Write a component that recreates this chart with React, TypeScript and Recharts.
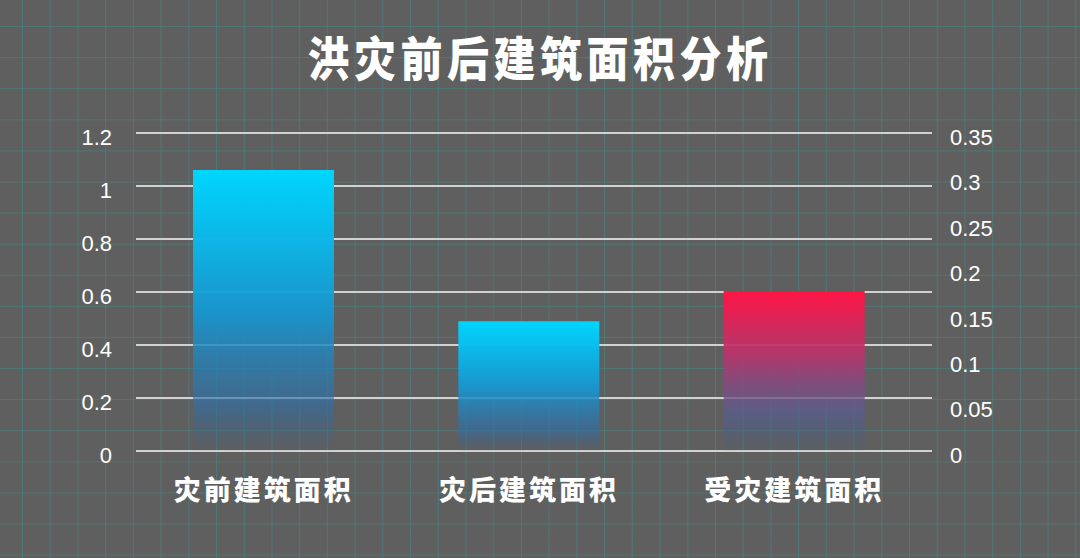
import React from 'react'
import { BarChart, Bar, XAxis, YAxis, CartesianGrid } from 'recharts'

// 面积数据（左轴：灾前/灾后，右轴：受灾）
const categories = ['灾前建筑面积', '灾后建筑面积', '受灾建筑面积']
const areaValues = [1.06, 0.49, null]
const damagedValues = [null, null, 0.176]
const leftTicks = [0, 0.2, 0.4, 0.6, 0.8, 1, 1.2]
const rightTicks = [0, 0.05, 0.1, 0.15, 0.2, 0.25, 0.3, 0.35]

const chartData = categories.map((name, i) => ({
  name,
  area: areaValues[i],
  damaged: damagedValues[i],
}))

const W = 1080
const H = 558
const BG = '#605f5f'
const GRID_TEAL = 'rgba(72, 128, 124, 0.75)'
const CJK = '"Noto Sans CJK SC", "Noto Sans", sans-serif'
const NUM = '"Liberation Sans", Arial, sans-serif'

export default function App() {
  return (
    <div
      style={{
        position: 'fixed',
        left: 0,
        top: 0,
        width: W,
        height: H,
        overflow: 'hidden',
        backgroundColor: BG,
        backgroundImage: `linear-gradient(to right, ${GRID_TEAL} 1px, transparent 1px), linear-gradient(to bottom, ${GRID_TEAL} 1px, transparent 1px)`,
        backgroundSize: '27.72px 31.1px',
        backgroundPosition: '22px 26px',
      }}
    >
      <div
        style={{
          position: 'absolute',
          top: 31,
          left: 0,
          width: W,
          textAlign: 'center',
          color: '#ffffff',
          fontFamily: CJK,
          fontWeight: 900,
          fontSize: 42,
          lineHeight: '50px',
          letterSpacing: 4.5,
          boxSizing: 'border-box',
          transform: 'scaleY(1.12)',
        }}
      >
        洪灾前后建筑面积分析
      </div>
      <BarChart
        width={W}
        height={H}
        data={chartData}
        margin={{ top: 133, right: 0, bottom: 77, left: 0 }}
        barSize={141}
        barGap={-141}
        style={{ position: 'absolute', left: 0, top: 0 }}
      >
        <defs>
          <linearGradient id="gradCyan" x1="0" y1="0" x2="0" y2="1">
            <stop offset="0%" stopColor="#00d6ff" stopOpacity={1} />
            <stop offset="50%" stopColor="#1698d2" stopOpacity={0.95} />
            <stop offset="85%" stopColor="#2f6ea6" stopOpacity={0.6} />
            <stop offset="100%" stopColor="#3a5f8a" stopOpacity={0.05} />
          </linearGradient>
          <linearGradient id="gradRed" x1="0" y1="0" x2="0" y2="1">
            <stop offset="0%" stopColor="#ff1545" stopOpacity={1} />
            <stop offset="40%" stopColor="#b8346c" stopOpacity={0.92} />
            <stop offset="75%" stopColor="#5a5c92" stopOpacity={0.75} />
            <stop offset="100%" stopColor="#3a5f8a" stopOpacity={0.05} />
          </linearGradient>
        </defs>
        <CartesianGrid
          yAxisId="left"
          vertical={false}
          stroke="#d2d2d2"
          strokeWidth={2}
          x={136}
          width={796}
        />
        <XAxis
          dataKey="name"
          height={30}
          axisLine={false}
          tickLine={false}
          tickSize={0}
          tickMargin={30}
          tick={{ fill: '#ffffff', fontSize: 27, fontWeight: 900, fontFamily: CJK, letterSpacing: 3 }}
        />
        <YAxis
          yAxisId="left"
          orientation="left"
          width={131}
          domain={[0, 1.2]}
          ticks={leftTicks}
          axisLine={false}
          tickLine={false}
          tickSize={0}
          tickMargin={19}
          tick={{ fill: '#ffffff', fontSize: 22, fontFamily: NUM, dy: 4 }}
        />
        <YAxis
          yAxisId="right"
          orientation="right"
          width={153}
          domain={[0, 0.35]}
          ticks={rightTicks}
          axisLine={false}
          tickLine={false}
          tickSize={0}
          tickMargin={23}
          tick={{ fill: '#ffffff', fontSize: 22, fontFamily: NUM, dy: 4 }}
        />
        <Bar yAxisId="left" dataKey="area" fill="url(#gradCyan)" isAnimationActive={false} />
        <Bar yAxisId="right" dataKey="damaged" fill="url(#gradRed)" isAnimationActive={false} />
      </BarChart>
    </div>
  )
}
